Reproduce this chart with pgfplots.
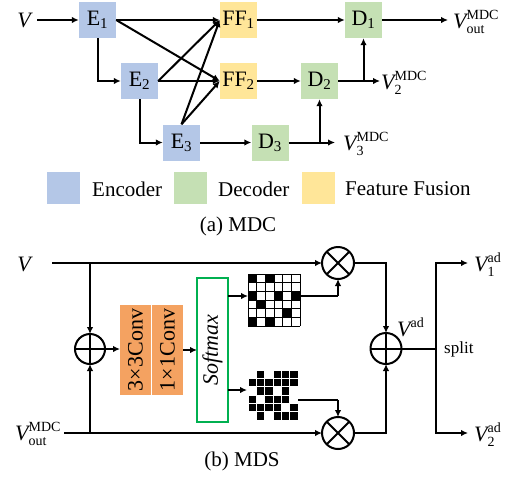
\documentclass[border=0pt]{standalone}
\usepackage{pgfplots}
\pgfplotsset{compat=1.18}
\usepackage{fontspec}
\setmainfont{Liberation Serif}
\usetikzlibrary{arrows.meta}
\definecolor{enc}{RGB}{180,199,231}
\definecolor{dec}{RGB}{197,224,180}
\definecolor{ffc}{RGB}{255,230,153}
\definecolor{convc}{RGB}{244,162,97}
\definecolor{smx}{RGB}{0,176,80}
\newcommand{\fs}[1]{\fontsize{#1}{#1}\selectfont}
\newcommand{\VV}[2]{$\mbox{\fs{22}\itshape V}^{\mbox{\fs{14}#1}}_{\mbox{\fs{14}#2}}$}
\newcommand{\sub}[2]{$\mbox{#1}_{\mbox{\fs{15}#2}}$}
\pgfplotstableread{
x y
252.3 278.3
269.7 278.3
252.3 295.7
278.3 295.7
295.7 295.7
261.0 304.3
287.0 313.0
252.3 321.7
269.7 321.7
}\gridA
\pgfplotstableread{
x y
260.5 374.2
277.2 374.2
285.5 374.2
293.8 374.2
252.2 382.5
260.5 382.5
268.8 382.5
277.2 382.5
285.5 382.5
293.8 382.5
260.5 390.8
268.8 390.8
285.5 390.8
252.2 399.2
268.8 399.2
277.2 399.2
285.5 399.2
252.2 407.5
260.5 407.5
268.8 407.5
277.2 407.5
293.8 407.5
260.5 415.8
277.2 415.8
285.5 415.8
293.8 415.8
}\gridB
\begin{document}
\begin{tikzpicture}[
  blk/.style={minimum width=37pt,minimum height=36pt,inner sep=0pt,font=\fs{22}},
  ar/.style={line width=2pt,-{Latex[length=7pt,width=6.5pt]}},
  ln/.style={line width=2pt},
  lab/.style={anchor=west,inner sep=0pt,font=\fs{22}}]
\useasboundingbox (0,0) rectangle (513pt,477pt);
\begin{axis}[width=513pt,height=477pt,scale only axis,
  xmin=0,xmax=513,ymin=0,ymax=477,y dir=reverse,hide axis,clip=false]
% ---------- (a) MDC ----------
\node[blk,fill=enc] (E1) at (axis cs:97.5,20) {\sub{E}{1}};
\node[blk,fill=enc] (E2) at (axis cs:139.5,81) {\sub{E}{2}};
\node[blk,fill=enc] (E3) at (axis cs:181.5,142.5) {\sub{E}{3}};
\node[blk,fill=ffc] (F1) at (axis cs:238.5,20) {\sub{FF}{1}};
\node[blk,fill=ffc] (F2) at (axis cs:238.5,81) {\sub{FF}{2}};
\node[blk,fill=dec] (D1) at (axis cs:363.5,20) {\sub{D}{1}};
\node[blk,fill=dec] (D2) at (axis cs:319.5,81) {\sub{D}{2}};
\node[blk,fill=dec] (D3) at (axis cs:270,142.5) {\sub{D}{3}};
\node[font=\fs{22}\itshape] at (axis cs:24,20) {V};
\draw[ar] (axis cs:37,20) -- (E1.west);
\draw[ar] (E1.south) |- (E2.west);
\draw[ar] (E2.south) |- (E3.west);
\draw[ar] (E1.east) -- (F1.west);
\draw[ar] (E1.east) -- (F2.west);
\draw[ar] (E2.east) -- (F1.west);
\draw[ar] (E2.east) -- (F2.west);
\draw[ar] (E3.north) -- (F1.west);
\draw[ar] (E3.north) -- (F2.west);
\draw[ar] (E3.east) -- (D3.west);
\draw[ar] (F1.east) -- (D1.west);
\draw[ar] (F2.east) -- (D2.west);
\draw[ar] (D1.east) -- (axis cs:448,20);
\draw[ar] (D2.east) -- (axis cs:380,81);
\draw[ar] (axis cs:363.5,81) -- (D1.south);
\draw[ar] (D3.east) -- (axis cs:335,142.5);
\draw[ar] (axis cs:319.5,142.5) -- (D2.south);
\node[lab] at (axis cs:453,22) {\VV{MDC}{out}};
\node[lab] at (axis cs:381,83) {\VV{MDC}{2}};
\node[lab] at (axis cs:343,144) {\VV{MDC}{3}};
% legend
\fill[enc] (axis cs:47,172) rectangle (axis cs:80,204);
\fill[dec] (axis cs:174,172) rectangle (axis cs:207,204);
\fill[ffc] (axis cs:302,172) rectangle (axis cs:335,204);
\node[lab,font=\fs{21}] at (axis cs:92,189) {Encoder};
\node[lab,font=\fs{21}] at (axis cs:218,189) {Decoder};
\node[lab,font=\fs{21}] at (axis cs:345,189) {Feature Fusion};
\node[font=\fs{21}] at (axis cs:238,226) {(a) MDC};
% ---------- (b) MDS ----------
\node[font=\fs{22}\itshape] at (axis cs:24,264) {V};
\node[lab] at (axis cs:15,434) {\VV{MDC}{out}};
\draw[ln] (axis cs:52,263) -- (axis cs:300,263);
\draw[ar] (axis cs:300,263) -- (axis cs:322,263);
\draw[ln] (axis cs:64,433) -- (axis cs:300,433);
\draw[ar] (axis cs:300,433) -- (axis cs:322,433);
\draw[ar] (axis cs:90,263) -- (axis cs:90,334);
\draw[ar] (axis cs:90,433) -- (axis cs:90,364);
% left oplus
\draw[line width=2pt] (axis cs:90,349) circle[radius=15];
\draw[line width=2pt] (axis cs:75,349) -- (axis cs:105,349) (axis cs:90,334) -- (axis cs:90,364);
\draw[ar] (axis cs:105,349) -- (axis cs:120,349);
% conv boxes
\fill[convc] (axis cs:120,305) rectangle (axis cs:151,395);
\fill[convc] (axis cs:152,305) rectangle (axis cs:183,395);
\node[rotate=90,font=\fs{22}] at (axis cs:135.5,350) {3×3Conv};
\node[rotate=90,font=\fs{22}] at (axis cs:167.5,350) {1×1Conv};
\draw[ar] (axis cs:183,350) -- (axis cs:197,350);
% softmax
\draw[smx,line width=2pt,fill=white] (axis cs:197,278) rectangle (axis cs:228,422);
\node[rotate=90,font=\fs{22}\itshape] at (axis cs:212.5,350) {Softmax};
\draw[ar] (axis cs:228,296) -- (axis cs:248,296);
\draw[ar] (axis cs:228,390) -- (axis cs:247,390);
% grid 1
\draw[line width=0.9pt]
  (axis cs:248,274) -- (axis cs:248,326)
  (axis cs:256.67,274) -- (axis cs:256.67,326)
  (axis cs:265.33,274) -- (axis cs:265.33,326)
  (axis cs:274,274) -- (axis cs:274,326)
  (axis cs:282.67,274) -- (axis cs:282.67,326)
  (axis cs:291.33,274) -- (axis cs:291.33,326)
  (axis cs:300,274) -- (axis cs:300,326)
  (axis cs:248,274) -- (axis cs:300,274)
  (axis cs:248,282.67) -- (axis cs:300,282.67)
  (axis cs:248,291.33) -- (axis cs:300,291.33)
  (axis cs:248,300) -- (axis cs:300,300)
  (axis cs:248,308.67) -- (axis cs:300,308.67)
  (axis cs:248,317.33) -- (axis cs:300,317.33)
  (axis cs:248,326) -- (axis cs:300,326);
\addplot[only marks,mark=square*,mark size=4.33pt,mark options={fill=black,draw=black,line width=0.5pt}] table[x=x,y=y] {\gridA};
% grid 2
\addplot[only marks,mark=square*,mark size=4.17pt,mark options={fill=black,draw=white,line width=0.8pt}] table[x=x,y=y] {\gridB};
% connections to otimes
\draw[ln] (axis cs:300,296) -- (axis cs:338,296);
\draw[ar] (axis cs:338,296) -- (axis cs:338,279);
\draw[ln] (axis cs:298,400) -- (axis cs:338,400);
\draw[ar] (axis cs:338,400) -- (axis cs:338,417);
% otimes
\draw[line width=2pt] (axis cs:338,263) circle[radius=16];
\draw[line width=2pt] (axis cs:326.7,251.7) -- (axis cs:349.3,274.3) (axis cs:326.7,274.3) -- (axis cs:349.3,251.7);
\draw[line width=2pt] (axis cs:338,433) circle[radius=16];
\draw[line width=2pt] (axis cs:326.7,421.7) -- (axis cs:349.3,444.3) (axis cs:326.7,444.3) -- (axis cs:349.3,421.7);
% to right oplus
\draw[ln] (axis cs:354,263) -- (axis cs:386,263);
\draw[ar] (axis cs:386,262) -- (axis cs:386,333);
\draw[ln] (axis cs:354,433) -- (axis cs:386,433);
\draw[ar] (axis cs:386,434) -- (axis cs:386,364);
\draw[line width=2pt] (axis cs:386,348.5) circle[radius=15.5];
\draw[line width=2pt] (axis cs:370.5,348.5) -- (axis cs:401.5,348.5) (axis cs:386,333) -- (axis cs:386,364);
\node[lab] at (axis cs:397,327) {$\mbox{\fs{22}\itshape V}^{\mbox{\fs{14}ad}}$};
% split
\draw[ln] (axis cs:401.5,348.5) -- (axis cs:436,348.5);
\draw[ln] (axis cs:436,262) -- (axis cs:436,434);
\draw[ar] (axis cs:435,263) -- (axis cs:468,263);
\draw[ar] (axis cs:435,433) -- (axis cs:468,433);
\node[lab,font=\fs{17}] at (axis cs:444,349) {split};
\node[lab] at (axis cs:474,265) {\VV{ad}{1}};
\node[lab] at (axis cs:474,435) {\VV{ad}{2}};
\node[font=\fs{21}] at (axis cs:242,461) {(b) MDS};
\end{axis}
\end{tikzpicture}
\end{document}
